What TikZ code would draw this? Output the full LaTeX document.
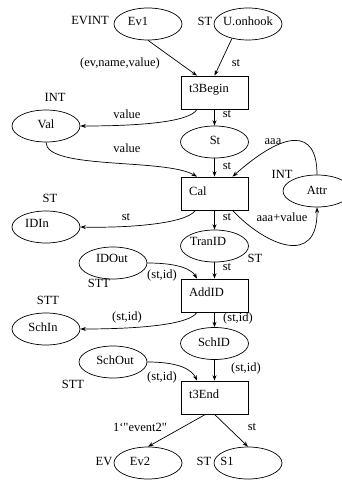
\documentclass[tikz,border=0pt]{standalone}
\usepackage{fontspec}
\setmainfont{Liberation Serif}
\usetikzlibrary{shapes.geometric,arrows.meta}
\tikzset{
  place/.style={draw, ellipse, minimum width=68pt, minimum height=32pt, inner sep=0pt, line width=0.7pt},
  trans/.style={draw, rectangle, minimum width=67pt, minimum height=33pt, inner sep=0pt, line width=0.7pt},
  txt/.style={inner sep=0pt, font=\fontsize{12.5}{14}\selectfont},
  ttxt/.style={txt, anchor=west},
  arc/.style={line width=0.7pt, -{Stealth[length=5.5pt, width=4pt]}}
}
\begin{document}
\begin{tikzpicture}[x=1pt, y=-1pt]
\useasboundingbox (0,0) rectangle (342,481);
% places
\node[place] (ev1) at (148,24) {};
\node[place] (uon) at (248,24) {};
\node[place] (val) at (46,126) {};
\node[place] (st) at (214.5,142) {};
\node[place] (attr) at (317,191) {};
\node[place] (idin) at (46,227) {};
\node[place] (tranid) at (214.5,246) {};
\node[place] (idout) at (113,263) {};
\node[place] (schin) at (46,329) {};
\node[place] (schid) at (214.5,343.5) {};
\node[place] (schout) at (113,362) {};
\node[place] (ev2) at (148,463) {};
\node[place] (s1) at (248,463) {};
% transitions
\node[trans] (t3b) at (214.5,92.5) {};
\node[trans] (cal) at (214.5,193.5) {};
\node[trans] (addid) at (214.5,295.5) {};
\node[trans] (t3e) at (214.5,397.5) {};
% place names and types
\node[txt] (n-ev1) at (138,21) {Ev1};
\node[txt] (c-ev1) at (90,21) {EVINT};
\node[txt] (n-uon) at (248,21) {U.onhook};
\node[txt] (c-uon) at (205,21) {ST};
\node[txt] (n-val) at (46,124) {Val};
\node[txt] (c-val) at (55,97) {INT};
\node[txt] (n-st) at (215,140) {St};
\node[txt] (n-attr) at (317,190) {Attr};
\node[txt] (c-attr) at (282,174) {INT};
\node[txt] (n-idin) at (37,223) {IDIn};
\node[txt] (c-idin) at (50,198) {ST};
\node[txt] (n-tranid) at (208,241) {TranID};
\node[txt] (c-tranid) at (255,258) {ST};
\node[txt] (n-idout) at (112,258) {IDOut};
\node[txt] (c-idout) at (99,283) {STT};
\node[txt] (n-schin) at (43,327) {SchIn};
\node[txt] (c-schin) at (48,300) {STT};
\node[txt] (n-schid) at (214,342) {SchID};
\node[txt] (n-schout) at (115,360) {SchOut};
\node[txt] (c-schout) at (73,384) {STT};
\node[txt] (n-ev2) at (140,461) {Ev2};
\node[txt] (c-ev2) at (104,461) {EV};
\node[txt] (n-s1) at (227,461) {S1};
\node[txt] (c-s1) at (204,461) {ST};
% transition names
\node[ttxt] (n-t3b) at (189,90) {t3Begin};
\node[ttxt] (n-cal) at (189,191) {Cal};
\node[ttxt] (n-addid) at (189,292) {AddID};
\node[ttxt] (n-t3e) at (189,394) {t3End};
% arcs
\draw[arc] (ev1.south) -- ([xshift=-17.5pt]t3b.north);
\draw[arc] (uon.222) -- (t3b.north);
\draw[arc] ([xshift=-17.5pt]t3b.south) .. controls (190,122) and (140,126) .. (val.east);
\draw[arc] (t3b.south) -- (st.north);
\draw[arc] (val.south) .. controls (46,170) and (165,158) .. ([xshift=-17.5pt]cal.north);
\draw[arc] (st.south) -- (cal.north);
\draw[arc] (attr.north) .. controls (317,128) and (285,130) .. ([xshift=18pt]cal.north);
\draw[arc] ([xshift=18pt]cal.south) .. controls (265,245) and (318,268) .. (attr.south);
\draw[arc] ([xshift=-19pt]cal.south) .. controls (185,225) and (120,228) .. (idin.east);
\draw[arc] (cal.south) -- (tranid.north);
\draw[arc] (idout.east) .. controls (180,263) and (192,270) .. ([xshift=-17.5pt]addid.north);
\draw[arc] (tranid.south) -- (addid.north);
\draw[arc] ([xshift=-17.5pt]addid.south) .. controls (188,327) and (120,329) .. (schin.east);
\draw[arc] (addid.south) -- (schid.north);
\draw[arc] (schout.east) .. controls (180,362) and (192,370) .. ([xshift=-17.5pt]t3e.north);
\draw[arc] (schid.south) -- (t3e.north);
\draw[arc] ([xshift=-9pt]t3e.south) -- (ev2.north);
\draw[arc] (t3e.south) -- (s1.north);
% arc inscriptions
\node[txt] (l1) at (120,63) {(ev,name,value)};
\node[txt] (l2) at (236,63) {st};
\node[txt] (l3) at (127,114) {value};
\node[txt] (l4) at (227,114) {st};
\node[txt] (l5) at (127,148) {value};
\node[txt] (l6) at (227,166) {st};
\node[txt] (l7) at (273,142) {aaa};
\node[txt] (l8) at (282,217) {aaa+value};
\node[txt] (l9) at (126,217) {st};
\node[txt] (l10) at (227,217) {st};
\node[txt] (l11) at (162,275) {(st,id)};
\node[txt] (l12) at (227,267) {st};
\node[txt] (l13) at (127,317) {(st,id)};
\node[txt] (l14) at (238,318) {(st,id)};
\node[txt] (l15) at (162,377) {(st,id)};
\node[txt] (l16) at (246,368) {(st,id)};
\node[txt] (l17) at (140,427) {1`\textquotedbl event2\textquotedbl};
\node[txt] (l18) at (252,427) {st};
\end{tikzpicture}
\end{document}
